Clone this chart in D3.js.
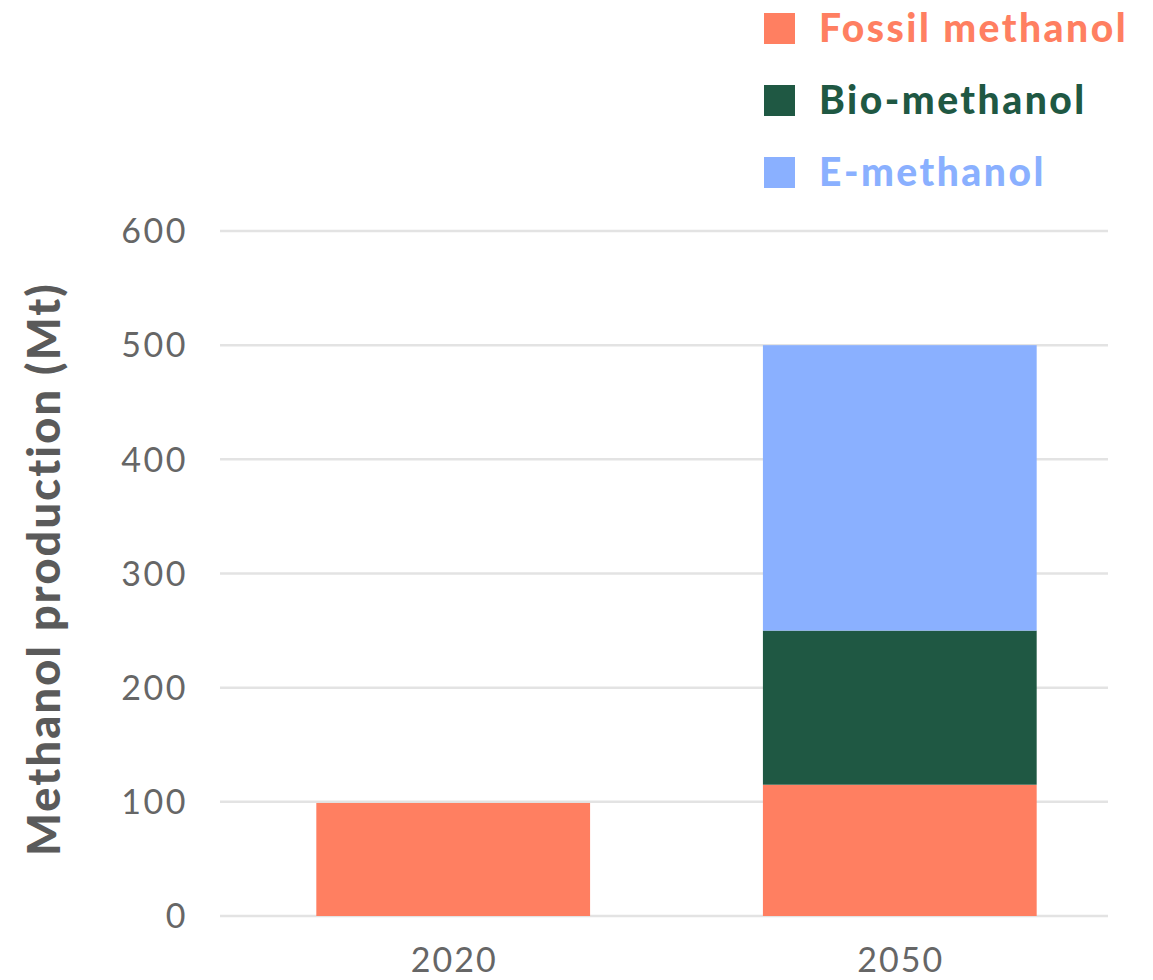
<!DOCTYPE html>
<html><head><meta charset="utf-8">
<script src="https://cdn.jsdelivr.net/npm/d3@7"></script>
<style>body{margin:0;background:#fff;} text{font-family:Lato, "Open Sans", sans-serif;}</style>
</head><body>
<svg id="c" width="1153" height="980"></svg>
<script>
const years = ["2020", "2050"];
const seriesNames = ["Fossil methanol", "Bio-methanol", "E-methanol"];
const fossil = [99, 115];
const bio = [0, 135];
const emeth = [0, 250];
const yTicks = [0, 100, 200, 300, 400, 500, 600];
const colors = ["#FF7F61", "#1F5843", "#8AB0FF"];

const svg = d3.select("#c");
const y = d3.scaleLinear().domain([0, 600]).range([916, 231]);
const x = d3.scaleBand().domain(years).range([227, 1126]).paddingInner(0.387).paddingOuter(0.2);

// gridlines
svg.append("g").selectAll("line").data(yTicks).join("line")
  .attr("x1", 220).attr("x2", 1108)
  .attr("y1", d => y(d)).attr("y2", d => y(d))
  .attr("stroke", "#e3e3e3").attr("stroke-width", 2.5);

// y tick labels
svg.append("g").selectAll("text").data(yTicks).join("text")
  .attr("x", 188).attr("y", d => y(d)).attr("dy", "0.36em")
  .attr("text-anchor", "end").attr("fill", "#666").attr("font-size", 34)
  .attr("letter-spacing", 2.5)
  .text(d => d);

// stacked bars
const rows = years.map((yr, i) => ({year: yr, "Fossil methanol": fossil[i], "Bio-methanol": bio[i], "E-methanol": emeth[i]}));
const stack = d3.stack().keys(seriesNames)(rows);
svg.append("g").selectAll("g").data(stack).join("g")
  .attr("fill", (d, i) => colors[i])
  .selectAll("rect").data(d => d.filter(s => s[1] - s[0] > 0)).join("rect")
  .attr("x", d => x(d.data.year)).attr("width", x.bandwidth())
  .attr("y", d => y(d[1])).attr("height", d => y(d[0]) - y(d[1]));

// x labels
svg.append("g").selectAll("text").data(years).join("text")
  .attr("x", d => x(d) + x.bandwidth() / 2 + 1).attr("y", 972)
  .attr("text-anchor", "middle").attr("fill", "#666").attr("font-size", 34)
  .attr("letter-spacing", 2)
  .text(d => d);

// y axis title
svg.append("text")
  .attr("transform", "translate(60,569) rotate(-90)")
  .attr("text-anchor", "middle").attr("fill", "#5a5a5a").attr("font-size", 45)
  .attr("letter-spacing", 2.2)
  .attr("font-weight", 900).text("Methanol production (Mt)");

// legend
const lg = svg.append("g").selectAll("g").data(seriesNames).join("g")
  .attr("transform", (d, i) => "translate(764," + (28 + i * 72) + ")");
lg.append("rect").attr("x", 0).attr("y", -15).attr("width", 31).attr("height", 31)
  .attr("fill", (d, i) => colors[i]);
lg.append("text").attr("x", 55).attr("y", 0).attr("dy", "0.36em")
  .attr("font-size", 39).attr("font-weight", 900).attr("letter-spacing", 2.5)
  .attr("fill", (d, i) => colors[i]).text(d => d);
</script>
</body></html>
